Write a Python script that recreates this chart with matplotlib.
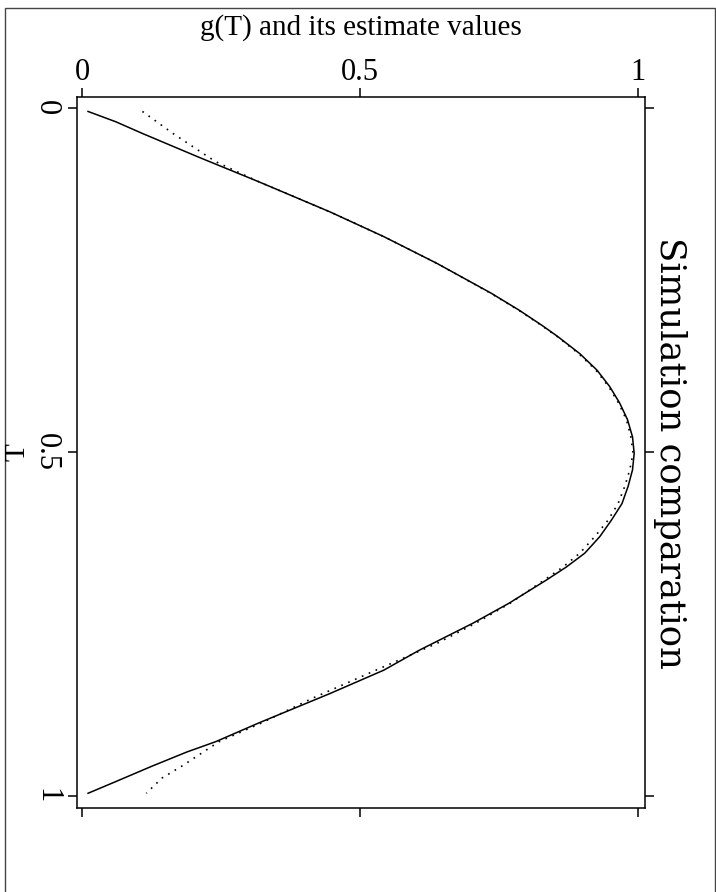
import matplotlib
matplotlib.use("Agg")
import matplotlib.pyplot as plt
from matplotlib.patches import Rectangle

# values: T runs down the page, g(T) across
t_est = [0.005, 0.020, 0.037, 0.071, 0.107, 0.151, 0.187, 0.226, 0.269, 0.294,
         0.316, 0.332, 0.357, 0.381, 0.405, 0.429, 0.453, 0.478, 0.502, 0.526,
         0.550, 0.575, 0.599, 0.623, 0.647, 0.667, 0.686, 0.720, 0.749, 0.788,
         0.817, 0.851, 0.894, 0.921, 0.936, 0.957, 0.979, 0.996]
g_est = [0.010, 0.060, 0.108, 0.208, 0.317, 0.446, 0.543, 0.639, 0.736, 0.787,
         0.828, 0.856, 0.896, 0.927, 0.950, 0.968, 0.982, 0.991, 0.994, 0.991,
         0.983, 0.972, 0.953, 0.932, 0.905, 0.872, 0.836, 0.768, 0.703, 0.607,
         0.543, 0.446, 0.317, 0.240, 0.188, 0.124, 0.060, 0.010]

t_other = [0.005, 0.037, 0.068, 0.078, 0.107, 0.151, 0.187, 0.226, 0.269, 0.294,
           0.316, 0.332, 0.357, 0.381, 0.405, 0.429, 0.453, 0.478, 0.502, 0.526,
           0.550, 0.575, 0.599, 0.623, 0.647, 0.667, 0.686, 0.720, 0.749, 0.778,
           0.812, 0.858, 0.894, 0.921, 0.938, 0.955, 0.974, 0.996]
g_other = [0.108, 0.163, 0.221, 0.240, 0.317, 0.446, 0.543, 0.639, 0.735, 0.786,
           0.827, 0.855, 0.894, 0.925, 0.948, 0.966, 0.980, 0.988, 0.992, 0.986,
           0.977, 0.965, 0.947, 0.923, 0.896, 0.866, 0.832, 0.770, 0.708, 0.639,
           0.543, 0.414, 0.322, 0.246, 0.214, 0.182, 0.143, 0.115]

g_ticks = [0, 0.5, 1]
g_tick_labels = ["0", "0.5", "1"]
t_ticks = [0, 0.5, 1]
t_tick_labels = ["0", "0.5", "1"]

plt.rcParams["font.family"] = ["Liberation Serif", "DejaVu Serif"]

W, H = 716, 892
fig = plt.figure(figsize=(W / 100, H / 100), dpi=100)
ax = fig.add_axes([77 / W, 84 / H, 568 / W, 711 / H])

ax.plot(g_est, t_est, color="black", lw=1.1)
ax.plot(g_other, t_other, color="black", lw=1.2, linestyle=(0, (1, 3.5)))

ax.set_xlim(-0.0099, 1.0135)
ax.set_ylim(1.0174, -0.016)
ax.set_xticks(g_ticks, g_tick_labels)
ax.set_yticks(t_ticks, t_tick_labels)
ax.tick_params(direction="out", length=6.5, width=1.1, top=True, right=True,
               labeltop=True, labelbottom=False, labelleft=True, labelright=False)
ax.tick_params(axis="x", labelsize=22, pad=1)
ax.tick_params(axis="y", labelsize=22, pad=5, labelrotation=-90)
for lbl in ax.get_yticklabels():
    lbl.set_va("center")
for sp in ax.spines.values():
    sp.set_linewidth(1.1)

# outer frame of the page
fig.add_artist(Rectangle((5 / W, -0.05), 710 / W, (H - 8) / H + 0.05,
                         transform=fig.transFigure, fill=False,
                         edgecolor="#444444", lw=1))

fig.text(361 / W, 1 - 28 / H, "g(T) and its estimate values",
         ha="center", va="center", fontsize=21)
fig.text(17.5 / W, 1 - 452.5 / H, "T", rotation=90,
         ha="center", va="center", fontsize=21)
fig.text(670 / W, 1 - 452.5 / H, "Simulation comparation", rotation=-90,
         ha="center", va="center", fontsize=25.5, family=["DejaVu Serif"])

fig.savefig("out.png", dpi=100)
